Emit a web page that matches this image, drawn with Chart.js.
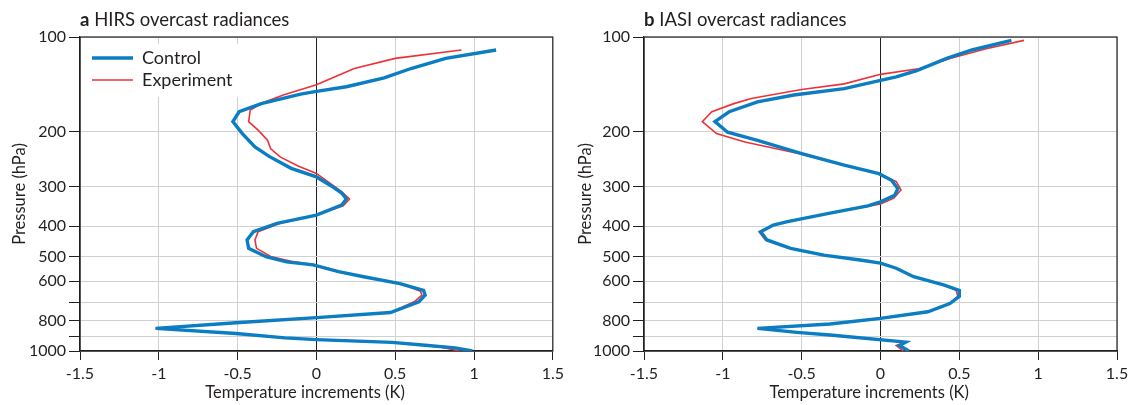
<!DOCTYPE html>
<html>
<head>
<meta charset="utf-8">
<script src="https://cdn.jsdelivr.net/npm/chart.js@4.4.1/dist/chart.umd.min.js"></script>
<style>
  body { margin: 0; background: #fff; font-family: Lato, sans-serif; }
  .panel { position: absolute; top: 0; height: 405px; }
  .panel canvas { display: block; }
  .ttl { position: absolute; top: 8px; font-size: 18.5px; line-height: 1.2; color: #231f20; white-space: nowrap; }
</style>
</head>
<body>
<div class="panel" style="left:0;width:568px">
  <canvas id="chartA"></canvas>
  <div class="ttl" style="left:80px"><b>a</b> HIRS overcast radiances</div>
</div>
<div class="panel" style="left:568px;width:569px">
  <canvas id="chartB"></canvas>
  <div class="ttl" style="left:76px"><b>b</b> IASI overcast radiances</div>
</div>
<script>
// axes
const yTicks = [100, 200, 300, 400, 500, 600, 700, 800, 900, 1000];
const yTickLabels = ['100', '200', '300', '400', '500', '600', '', '800', '', '1000'];
const xTicks = [-1.5, -1, -0.5, 0, 0.5, 1, 1.5];
const xTickLabels = ['-1.5', '-1', '-0.5', '0', '0.5', '1', '1.5'];

// a: HIRS
const hirsCtrlP = [110, 117, 126, 135, 144, 149, 152, 163, 173, 186, 203, 224, 240, 262, 279, 297, 314, 328, 343, 369, 392, 417, 443, 471, 501, 520, 532, 559, 580, 610, 641, 664, 697, 754, 783, 813, 847, 880, 908, 920, 939, 959, 977, 1000];
const hirsCtrlT = [1.14, 0.82, 0.60, 0.43, 0.19, 0.0, -0.10, -0.35, -0.49, -0.53, -0.47, -0.39, -0.30, -0.16, 0.0, 0.09, 0.16, 0.19, 0.16, 0.0, -0.25, -0.40, -0.44, -0.43, -0.32, -0.19, -0.02, 0.14, 0.30, 0.53, 0.68, 0.69, 0.65, 0.47, 0.0, -0.51, -1.02, -0.51, -0.20, 0.0, 0.48, 0.69, 0.88, 0.99];
const hirsExpP = [110, 117, 126, 142, 153, 162, 171, 186, 198, 213, 227, 241, 257, 272, 293, 311, 328, 345, 369, 392, 417, 443, 471, 500, 518, 530, 557, 580, 610, 645, 664, 697, 754, 783, 813, 847, 880, 908, 920, 939, 959, 975, 1000];
const hirsExpT = [0.92, 0.50, 0.24, 0.0, -0.21, -0.34, -0.42, -0.43, -0.37, -0.31, -0.29, -0.23, -0.12, 0.0, 0.09, 0.16, 0.21, 0.17, 0.0, -0.23, -0.37, -0.39, -0.38, -0.29, -0.16, -0.02, 0.14, 0.30, 0.53, 0.66, 0.67, 0.62, 0.47, 0.0, -0.51, -1.02, -0.51, -0.20, 0.0, 0.48, 0.68, 0.80, 0.91];

// b: IASI
const iasiCtrlP = [102.5, 110, 117, 128, 134, 137.5, 146, 153, 161, 173, 186, 201, 213.5, 235, 256, 272.5, 286, 304, 319, 335, 345, 364, 387, 397, 417, 443, 471, 495, 513, 525, 545, 580, 616, 641, 670, 706, 750, 787, 820, 847, 872, 889, 937, 961, 1000];
const iasiCtrlT = [0.83, 0.58, 0.42, 0.23, 0.10, 0.0, -0.23, -0.55, -0.78, -0.96, -1.05, -0.97, -0.78, -0.50, -0.23, -0.01, 0.07, 0.11, 0.09, 0.0, -0.08, -0.32, -0.59, -0.68, -0.76, -0.72, -0.57, -0.36, -0.13, 0.0, 0.10, 0.21, 0.40, 0.50, 0.50, 0.44, 0.30, 0.0, -0.32, -0.78, -0.53, -0.32, 0.16, 0.12, 0.18];
const iasiExpP = [102.5, 109, 117, 126, 131.5, 141, 147, 157, 163, 173, 186, 203, 216, 235, 256, 272.5, 289, 307, 326, 340, 364, 387, 397, 417, 443, 471, 495, 513, 525, 545, 580, 616, 641, 670, 706, 750, 787, 820, 847, 872, 889, 937, 961, 1000];
const iasiExpT = [0.91, 0.67, 0.44, 0.25, 0.0, -0.23, -0.50, -0.82, -0.93, -1.07, -1.13, -1.04, -0.86, -0.52, -0.23, -0.01, 0.10, 0.13, 0.085, 0.0, -0.32, -0.59, -0.68, -0.77, -0.73, -0.57, -0.36, -0.13, 0.0, 0.10, 0.21, 0.40, 0.48, 0.49, 0.44, 0.30, 0.0, -0.32, -0.78, -0.53, -0.32, 0.16, 0.10, 0.145];

const blue = '#0b7dc2';
const red = '#ec3237';
const ink = '#231f20';
const gridGray = '#d0d0d0';
const font16 = { family: 'Lato', size: 16 };

const toXY = (t, p) => t.map((v, i) => ({ x: v, y: p[i] }));

// box round the plot area (top + right sides too)
const frame = {
    id: 'frame',
    beforeDatasetsDraw(chart) {
        const { ctx, chartArea: a } = chart;
        ctx.save();
        ctx.strokeStyle = ink;
        ctx.lineWidth = 1.2;
        ctx.strokeRect(a.left, a.top, a.right - a.left, a.bottom - a.top);
        ctx.restore();
    }
};

// legend sits inside the plot on a white patch
const legendBox = {
    id: 'legendBox',
    afterLayout(chart) {
        const lg = chart.legend, a = chart.chartArea;
        if (!lg || !lg.options.display) return;
        lg.left = a.left + 8; lg.top = a.top + 8;
        lg.right = a.left + 180; lg.bottom = a.top + 72;
        lg.width = lg.right - lg.left; lg.height = lg.bottom - lg.top;
    },
    afterDatasetsDraw(chart) {
        const lg = chart.legend, a = chart.chartArea, ctx = chart.ctx;
        if (!lg || !lg.options.display) return;
        ctx.save();
        ctx.fillStyle = '#fff';
        ctx.fillRect(a.left + 2, a.top + 7, 163, 53);
        ctx.restore();
        lg.draw();
    }
};

function makePanel(id, ctrlT, ctrlP, expT, expP, showLegend, yWidth, yTitlePad) {
    return new Chart(document.getElementById(id), {
        type: 'scatter',
        data: {
            datasets: [
                { label: 'Control', data: toXY(ctrlT, ctrlP), showLine: true, borderColor: blue, backgroundColor: blue, borderWidth: 3.4, pointRadius: 0, tension: 0 },
                { label: 'Experiment', data: toXY(expT, expP), showLine: true, borderColor: red, backgroundColor: red, borderWidth: 1.6, pointRadius: 0, tension: 0 }
            ]
        },
        options: {
            responsive: true, maintainAspectRatio: false, animation: false,
            layout: { padding: { top: 37, right: id === 'chartA' ? 15 : 20, left: 0, bottom: 0 } },
            plugins: {
                tooltip: { enabled: false },
                legend: {
                    display: showLegend, position: 'chartArea', align: 'start',
                    labels: { usePointStyle: true, pointStyle: 'line', pointStyleWidth: 41, font: { family: 'Lato', size: 18 }, color: ink, padding: 4 }
                }
            },
            scales: {
                x: {
                    type: 'linear', min: -1.5, max: 1.5,
                    afterBuildTicks: s => { s.ticks = xTicks.map(v => ({ value: v })); },
                    afterFit: s => { s.height = 54; },
                    ticks: { autoSkip: false, maxRotation: 0, padding: 4, color: ink, font: font16, callback: (v, i) => xTickLabels[i] },
                    grid: { color: c => (c.tick && c.tick.value === 0 ? ink : gridGray), lineWidth: 1, tickLength: 9, tickColor: ink },
                    border: { color: ink, width: 1.2 },
                    title: { display: true, text: 'Temperature increments (K)\u2003\u2002\u2009', color: ink, font: { family: 'Lato', size: 16.5 }, padding: { top: 0, bottom: 2 } }
                },
                y: {
                    type: 'logarithmic', min: 100, max: 1000, reverse: true,
                    afterBuildTicks: s => { s.ticks = yTicks.map(v => ({ value: v })); },
                    afterFit: s => { s.width = yWidth; },
                    ticks: { autoSkip: false, padding: 3, color: ink, font: font16, callback: (v, i) => yTickLabels[i] },
                    grid: { color: gridGray, lineWidth: 1, tickLength: 11, tickColor: ink },
                    border: { color: ink, width: 1.2 },
                    title: { display: true, text: 'Pressure (hPa)', color: ink, font: { family: 'Lato', size: 16.5 }, padding: { top: yTitlePad, bottom: 0 } }
                }
            }
        },
        plugins: [frame, legendBox]
    });
}

makePanel('chartA', hirsCtrlT, hirsCtrlP, hirsExpT, hirsExpP, true, 80, 10);
makePanel('chartB', iasiCtrlT, iasiCtrlP, iasiExpT, iasiExpP, false, 76, 8);
</script>
</body>
</html>
